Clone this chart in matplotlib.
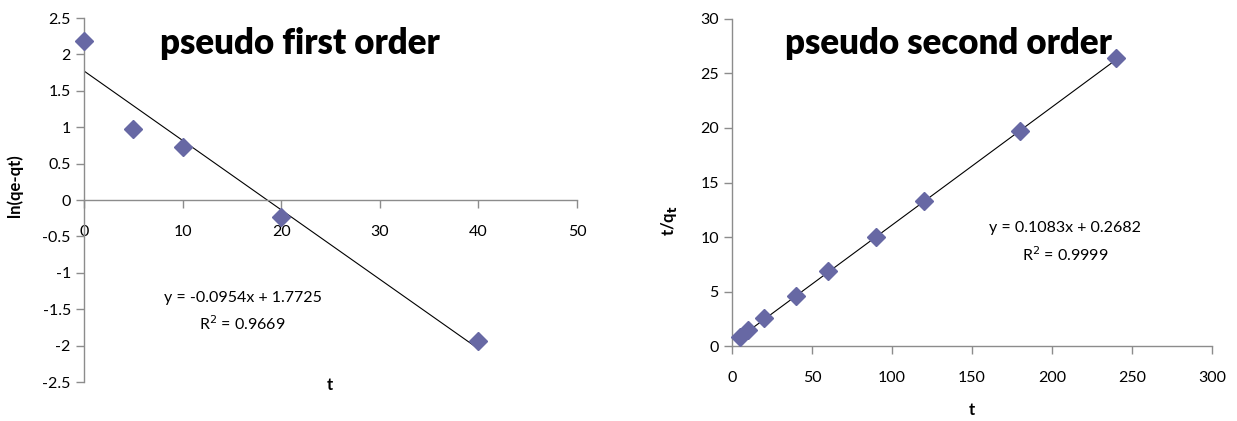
import matplotlib
matplotlib.use("Agg")
import matplotlib.pyplot as plt
import numpy as np

plt.rcParams['font.family'] = ['Lato', 'DejaVu Sans']

# pseudo first order: ln(qe - qt) vs t
t1 = [0, 5, 10, 20, 40]
ln_q = [2.19, 0.98, 0.73, -0.24, -1.93]
slope1, icpt1, r2_1 = -0.0954, 1.7725, 0.9669

# pseudo second order: t/qt vs t
t2 = [5, 10, 20, 40, 60, 90, 120, 180, 240]
t_over_q = [0.80, 1.45, 2.60, 4.60, 6.85, 10.0, 13.3, 19.75, 26.4]
slope2, icpt2, r2_2 = 0.1083, 0.2682, 0.9999

marker_color = '#6768A4'
axis_color = '#8C8C8C'

fig = plt.figure(figsize=(12.37, 4.21), dpi=100)
ax1 = fig.add_axes([0.0679, 0.0926, 0.3986, 0.8646])
ax2 = fig.add_axes([0.5918, 0.1781, 0.3880, 0.7768])

def style(ax):
    for s in ('top', 'right'):
        ax.spines[s].set_visible(False)
    for s in ('left', 'bottom'):
        ax.spines[s].set_color(axis_color)
        ax.spines[s].set_linewidth(1.0)
    ax.tick_params(direction='out', length=6, color=axis_color, labelsize=11.5,
                   width=1.0, labelcolor='black')

# left panel
style(ax1)
ax1.spines['bottom'].set_position(('data', 0))
ax1.set_xlim(0, 50)
ax1.set_ylim(-2.5, 2.5)
ax1.set_xticks(np.arange(0, 51, 10))
ax1.set_yticks(np.arange(-2.5, 2.51, 0.5))
ax1.set_yticklabels([f'{v:g}' for v in np.arange(-2.5, 2.51, 0.5)])
ax1.tick_params(axis='x', pad=12)
x_fit1 = np.array([min(t1), max(t1)])
ax1.plot(x_fit1, slope1 * x_fit1 + icpt1, color='black', lw=0.8, zorder=2)
ax1.plot(t1, ln_q, ls='none', marker='D', ms=9, color=marker_color,
         mec=marker_color, clip_on=False, zorder=3)
ax1.text(0.2425, 0.935, 'pseudo first order', transform=fig.transFigure,
         ha='center', va='top', fontsize=25, fontweight='heavy')
ax1.text(0.012, 0.56, 'ln(qe-qt)', transform=fig.transFigure, rotation=90,
         ha='center', va='center', fontsize=12, fontweight='bold')
ax1.text(0.267, 0.085, 't', transform=fig.transFigure,
         ha='center', va='center', fontsize=12, fontweight='bold')
ax1.text(0.196, 0.293, f'y = {slope1:.4f}x + {icpt1:.4f}', transform=fig.transFigure,
         ha='center', va='center', fontsize=11.5)
ax1.text(0.196, 0.232, f'R$^2$ = {r2_1:.4f}', transform=fig.transFigure,
         ha='center', va='center', fontsize=11.5)

# right panel
style(ax2)
ax2.set_xlim(0, 300)
ax2.set_ylim(0, 30)
ax2.set_xticks(np.arange(0, 301, 50))
ax2.set_yticks(np.arange(0, 31, 5))
ax2.tick_params(axis='x', pad=12)
x_fit2 = np.array([min(t2), max(t2)])
ax2.plot(x_fit2, slope2 * x_fit2 + icpt2, color='black', lw=0.8, zorder=2)
ax2.plot(t2, t_over_q, ls='none', marker='D', ms=9, color=marker_color,
         mec=marker_color, clip_on=False, zorder=3)
ax2.text(0.767, 0.935, 'pseudo second order', transform=fig.transFigure,
         ha='center', va='top', fontsize=25, fontweight='heavy')
ax2.text(0.541, 0.475, 't/q$_\\mathbf{t}$', transform=fig.transFigure, rotation=90,
         ha='center', va='center', fontsize=12, fontweight='bold')
ax2.text(0.786, 0.025, 't', transform=fig.transFigure,
         ha='center', va='center', fontsize=12, fontweight='bold')
ax2.text(0.861, 0.458, f'y = {slope2:.4f}x + {icpt2:.4f}', transform=fig.transFigure,
         ha='center', va='center', fontsize=11.5)
ax2.text(0.861, 0.395, f'R$^2$ = {r2_2:.4f}', transform=fig.transFigure,
         ha='center', va='center', fontsize=11.5)

fig.savefig('out.png', dpi=100, facecolor='white')
